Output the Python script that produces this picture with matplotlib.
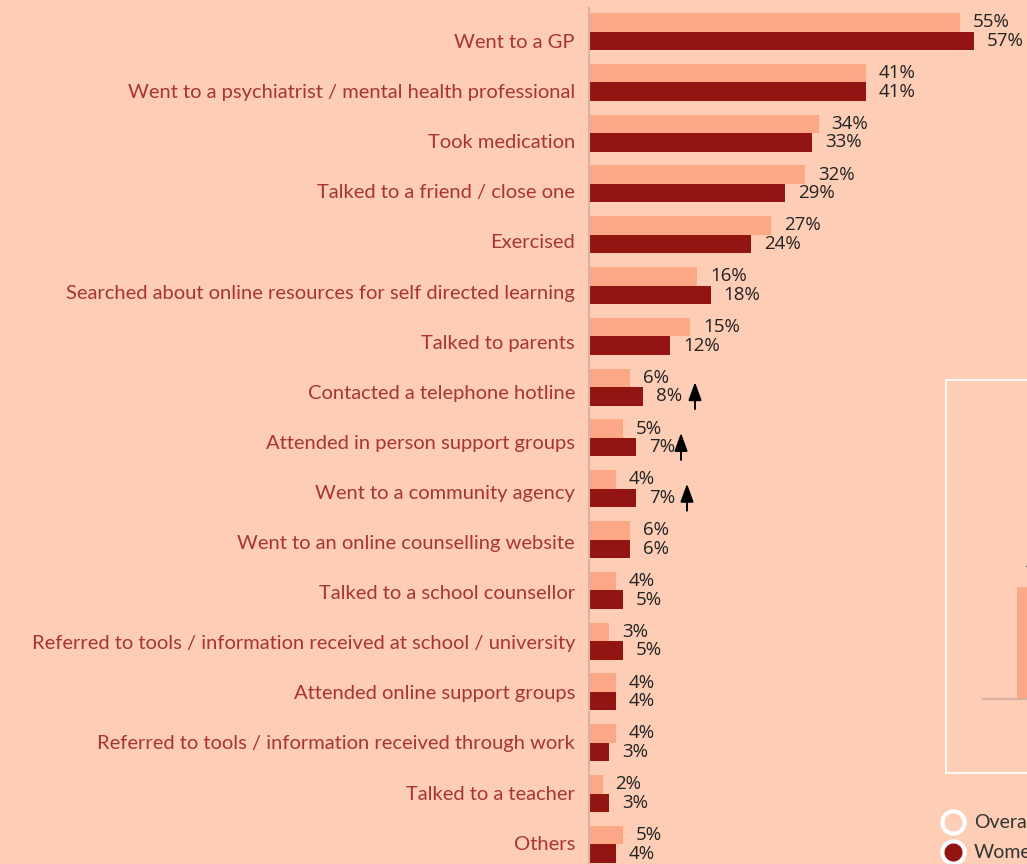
import numpy as np
import matplotlib.pyplot as plt

# survey answers, top to bottom
actions = [
    "Went to a GP",
    "Went to a psychiatrist / mental health professional",
    "Took medication",
    "Talked to a friend / close one",
    "Exercised",
    "Searched about online resources for self directed learning",
    "Talked to parents",
    "Contacted a telephone hotline",
    "Attended in person support groups",
    "Went to a community agency",
    "Went to an online counselling website",
    "Talked to a school counsellor",
    "Referred to tools / information received at school / university",
    "Attended online support groups",
    "Referred to tools / information received through work",
    "Talked to a teacher",
    "Others",
]
overall = [55, 41, 34, 32, 27, 16, 15, 6, 5, 4, 6, 4, 3, 4, 4, 2, 5]
women = [57, 41, 33, 29, 24, 18, 12, 8, 7, 7, 6, 5, 5, 4, 3, 3, 4]
# rows where women are notably higher
arrow_rows = [7, 8, 9]

# inset panel (mostly off to the right)
inset_value = [45]

BG = "#fdcdb6"
LIGHT = "#fca886"
DARK = "#921512"
LABEL = "#a8362e"
W, H = 1027, 864

fig = plt.figure(figsize=(W / 100, H / 100), dpi=100, facecolor=BG)

# main axes: pixel units on y, percent on x
x0 = 589
px_per_pct = 6.75
ax = fig.add_axes([x0 / W, 0, (W - x0) / W, 1])
ax.set_facecolor(BG)
ax.set_xlim(0, (W - x0) / px_per_pct)
ax.set_ylim(H, 0)
ax.axis("off")

step = 50.8
first = 31.5
bh = 18.5
centers = first + step * np.arange(len(actions))
label_y = 42.5 + 50.1 * np.arange(len(actions))

ax.barh(centers - bh / 2, overall, height=bh, color=LIGHT, edgecolor="none")
ax.barh(centers + bh / 2, women, height=bh, color=DARK, edgecolor="none")
ax.plot([0, 0], [8, H], color="#d8b3a3", lw=1.5, clip_on=False)

off = 13 / px_per_pct
for i, (o, w) in enumerate(zip(overall, women)):
    c = centers[i]
    ax.text(o + off, c - bh / 2, f"{o}%", ha="left", va="center",
            fontsize=13.5, family="Open Sans", color="#222222")
    ax.text(w + off, c + bh / 2, f"{w}%", ha="left", va="center",
            fontsize=13.5, family="Open Sans", color="#222222")
    fig.text((x0 - 14) / W, 1 - label_y[i] / H, actions[i], ha="right",
             va="center", fontsize=14.5, family="Lato", color=LABEL)

arrow_x = [695, 681, 687]
for r, xa in zip(arrow_rows, arrow_x):
    c = centers[r]
    xd = (xa - x0) / px_per_pct
    ax.annotate("", xy=(xd, c - 5), xytext=(xd, c + 22),
                arrowprops=dict(arrowstyle="-|>,head_length=0.55,head_width=0.2",
                                mutation_scale=20, color="black", lw=1.4,
                                shrinkA=0, shrinkB=0))

# inset panel
ix0, iy0, iy1 = 946, 380, 773
inset = fig.add_axes([ix0 / W, 1 - iy1 / H, 200 / W, (iy1 - iy0) / H])
inset.set_facecolor(BG)
inset.set_xlim(0, 200)
inset.set_ylim(0, iy1 - iy0)
inset.set_xticks([])
inset.set_yticks([])
for s in inset.spines.values():
    s.set_color("white")
    s.set_linewidth(1.2)
base = iy1 - 699
inset.plot([37, 200], [base, base], color="#d8b3a3", lw=1.5)
inset.bar([96], [inset_value[0] * 2.5], bottom=base, width=50,
          color=LIGHT, edgecolor="none")
inset.text(96, base + inset_value[0] * 2.5 + 12, f"{inset_value[0]}%",
           ha="center", va="bottom", fontsize=12, family="Open Sans",
           color="#333333")

# legend
for name, col, yy in [("Overall", BG, 822), ("Women", DARK, 852)]:
    fig.lines.append(plt.Line2D([953 / W], [1 - yy / H], marker="o",
                                markersize=16, markerfacecolor=col,
                                markeredgecolor="white", markeredgewidth=3,
                                transform=fig.transFigure))
    fig.text(974 / W, 1 - yy / H, name, ha="left", va="center",
             fontsize=14, family="Lato", color="#333333")

fig.savefig("out.png", dpi=100, facecolor=BG)
